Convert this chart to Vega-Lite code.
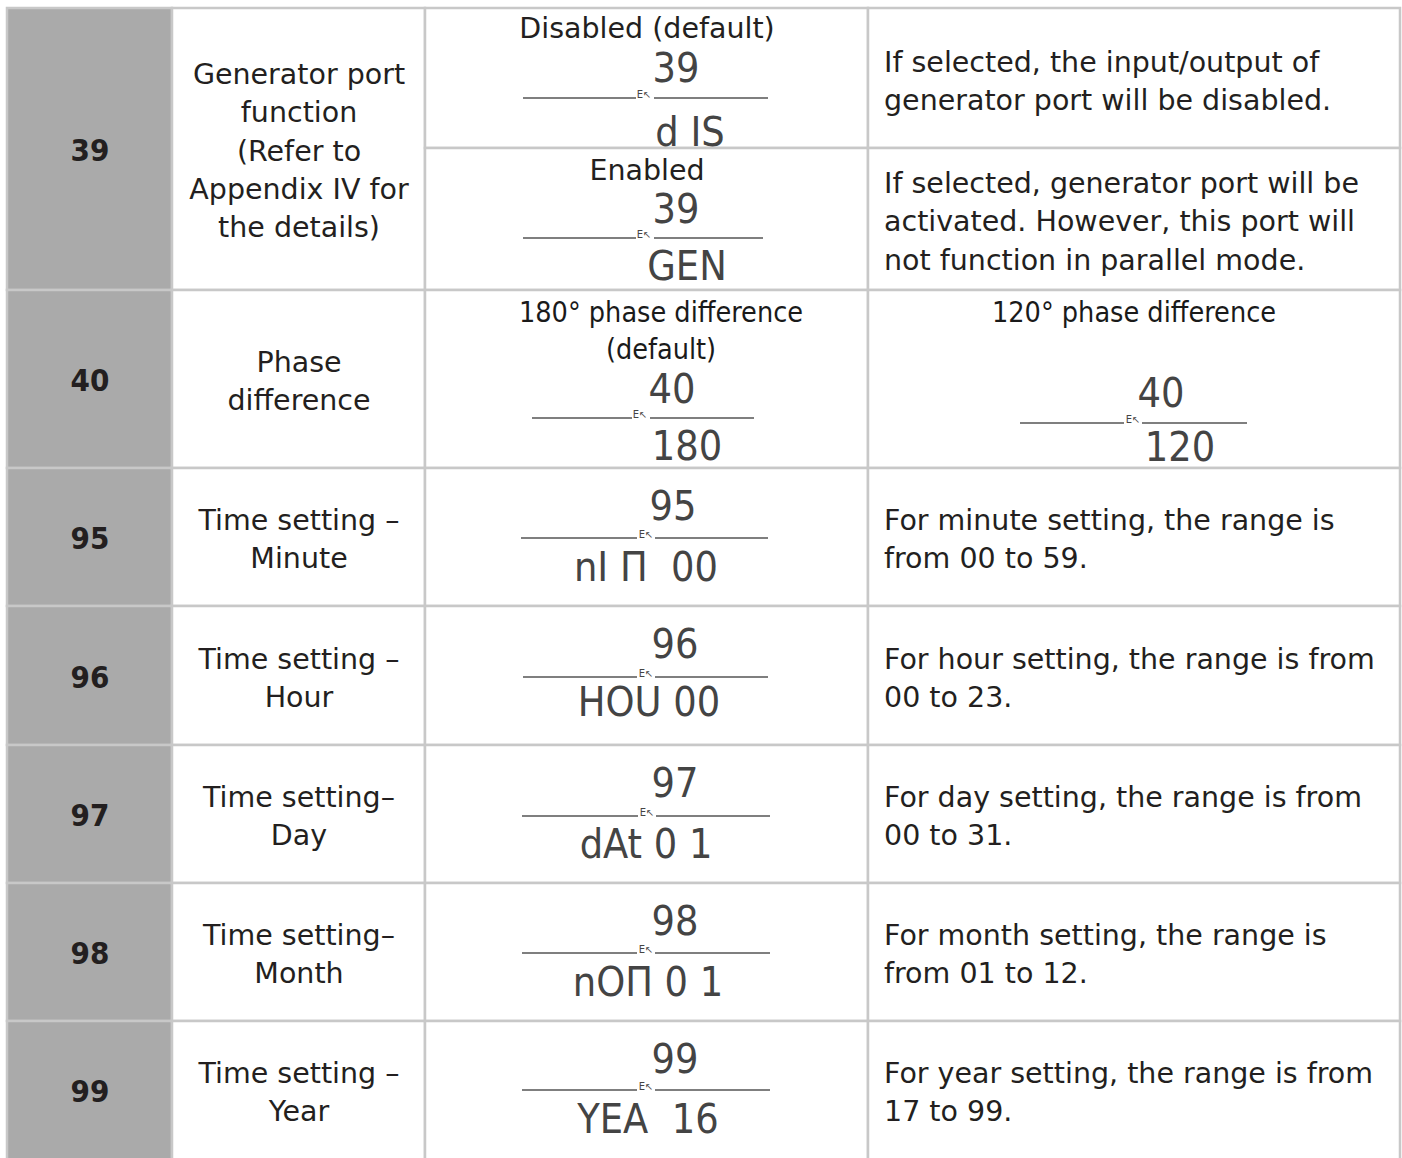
{
  "$schema": "https://vega.github.io/schema/vega-lite/v6.json",
  "width": 1402,
  "height": 1158,
  "padding": 0,
  "autosize": {"type": "none"},
  "background": "white",
  "config": {"view": {"stroke": null}},
  "datasets": {
    "cells": [
      {"x1": 7, "x2": 172, "y1": 8, "y2": 290, "kind": "id"},
      {"x1": 7, "x2": 172, "y1": 290, "y2": 468, "kind": "id"},
      {"x1": 7, "x2": 172, "y1": 468, "y2": 606, "kind": "id"},
      {"x1": 7, "x2": 172, "y1": 606, "y2": 745, "kind": "id"},
      {"x1": 7, "x2": 172, "y1": 745, "y2": 883, "kind": "id"},
      {"x1": 7, "x2": 172, "y1": 883, "y2": 1021, "kind": "id"},
      {"x1": 7, "x2": 172, "y1": 1021, "y2": 1175, "kind": "id"},
      {"x1": 172, "x2": 425, "y1": 8, "y2": 290, "kind": "body"},
      {"x1": 172, "x2": 425, "y1": 290, "y2": 468, "kind": "body"},
      {"x1": 172, "x2": 425, "y1": 468, "y2": 606, "kind": "body"},
      {"x1": 172, "x2": 425, "y1": 606, "y2": 745, "kind": "body"},
      {"x1": 172, "x2": 425, "y1": 745, "y2": 883, "kind": "body"},
      {"x1": 172, "x2": 425, "y1": 883, "y2": 1021, "kind": "body"},
      {"x1": 172, "x2": 425, "y1": 1021, "y2": 1175, "kind": "body"},
      {"x1": 425, "x2": 868, "y1": 8, "y2": 148, "kind": "body"},
      {"x1": 425, "x2": 868, "y1": 148, "y2": 290, "kind": "body"},
      {"x1": 425, "x2": 868, "y1": 290, "y2": 468, "kind": "body"},
      {"x1": 425, "x2": 868, "y1": 468, "y2": 606, "kind": "body"},
      {"x1": 425, "x2": 868, "y1": 606, "y2": 745, "kind": "body"},
      {"x1": 425, "x2": 868, "y1": 745, "y2": 883, "kind": "body"},
      {"x1": 425, "x2": 868, "y1": 883, "y2": 1021, "kind": "body"},
      {"x1": 425, "x2": 868, "y1": 1021, "y2": 1175, "kind": "body"},
      {"x1": 868, "x2": 1400, "y1": 8, "y2": 148, "kind": "body"},
      {"x1": 868, "x2": 1400, "y1": 148, "y2": 290, "kind": "body"},
      {"x1": 868, "x2": 1400, "y1": 290, "y2": 468, "kind": "body"},
      {"x1": 868, "x2": 1400, "y1": 468, "y2": 606, "kind": "body"},
      {"x1": 868, "x2": 1400, "y1": 606, "y2": 745, "kind": "body"},
      {"x1": 868, "x2": 1400, "y1": 745, "y2": 883, "kind": "body"},
      {"x1": 868, "x2": 1400, "y1": 883, "y2": 1021, "kind": "body"},
      {"x1": 868, "x2": 1400, "y1": 1021, "y2": 1175, "kind": "body"}
    ],
    "texts": [
      {"style": "id", "text": "39", "x": 90, "y": 152},
      {"style": "id", "text": "40", "x": 90, "y": 382},
      {"style": "id", "text": "95", "x": 90, "y": 540},
      {"style": "id", "text": "96", "x": 90, "y": 679},
      {"style": "id", "text": "97", "x": 90, "y": 817},
      {"style": "id", "text": "98", "x": 90, "y": 955},
      {"style": "id", "text": "99", "x": 90, "y": 1093},
      {"style": "center", "text": "Generator port\nfunction\n(Refer to\nAppendix IV for\nthe details)", "x": 299, "y": 75},
      {"style": "center", "text": "Phase\ndifference", "x": 299, "y": 363},
      {"style": "center", "text": "Time setting –\nMinute", "x": 299, "y": 521},
      {"style": "center", "text": "Time setting –\nHour", "x": 299, "y": 660},
      {"style": "center", "text": "Time setting–\nDay", "x": 299, "y": 798},
      {"style": "center", "text": "Time setting–\nMonth", "x": 299, "y": 936},
      {"style": "center", "text": "Time setting –\nYear", "x": 299, "y": 1074},
      {"style": "center", "text": "Disabled (default)", "x": 647, "y": 29},
      {"style": "center", "text": "Enabled", "x": 647, "y": 171},
      {"style": "left", "text": "If selected, the input/output of\ngenerator port will be disabled.", "x": 884, "y": 63},
      {"style": "left", "text": "If selected, generator port will be\nactivated. However, this port will\nnot function in parallel mode.", "x": 884, "y": 184},
      {"style": "left", "text": "For minute setting, the range is\nfrom 00 to 59.", "x": 884, "y": 521},
      {"style": "left", "text": "For hour setting, the range is from\n00 to 23.", "x": 884, "y": 660},
      {"style": "left", "text": "For day setting, the range is from\n00 to 31.", "x": 884, "y": 798},
      {"style": "left", "text": "For month setting, the range is\nfrom 01 to 12.", "x": 884, "y": 936},
      {"style": "left", "text": "For year setting, the range is from\n17 to 99.", "x": 884, "y": 1074},
      {"style": "narrow", "text": "180° phase difference\n(default)", "x": 661, "y": 313},
      {"style": "narrow", "text": "120° phase difference", "x": 1134, "y": 313}
    ],
    "lcd": [
      {"code": "39", "cx": 676, "cy": 70, "bottom": "d IS", "bx": 690, "by": 134, "icon": 644, "ly": 98},
      {"code": "39", "cx": 676, "cy": 211, "bottom": "GEN", "bx": 687, "by": 268, "icon": 644, "ly": 238},
      {"code": "40", "cx": 672, "cy": 391, "bottom": "180", "bx": 687, "by": 448, "icon": 640, "ly": 418},
      {"code": "40", "cx": 1161, "cy": 395, "bottom": "120", "bx": 1180, "by": 449, "icon": 1133, "ly": 423},
      {"code": "95", "cx": 673, "cy": 508, "bottom": "nI П\u00a0\u00a000", "bx": 646, "by": 569, "icon": 646, "ly": 538},
      {"code": "96", "cx": 675, "cy": 646, "bottom": "HOU 00", "bx": 649, "by": 704, "icon": 646, "ly": 677},
      {"code": "97", "cx": 675, "cy": 785, "bottom": "dAt 0 1", "bx": 646, "by": 846, "icon": 647, "ly": 816},
      {"code": "98", "cx": 675, "cy": 923, "bottom": "nOП 0 1", "bx": 648, "by": 984, "icon": 646, "ly": 953},
      {"code": "99", "cx": 675, "cy": 1061, "bottom": "YEA\u00a0\u00a016", "bx": 648, "by": 1121, "icon": 646, "ly": 1090}
    ],
    "segs": [
      {"x1": 523, "x2": 636, "y": 98}, {"x1": 654, "x2": 768, "y": 98},
      {"x1": 523, "x2": 636, "y": 238}, {"x1": 654, "x2": 763, "y": 238},
      {"x1": 532, "x2": 632, "y": 418}, {"x1": 650, "x2": 754, "y": 418},
      {"x1": 1020, "x2": 1124, "y": 423}, {"x1": 1142, "x2": 1247, "y": 423},
      {"x1": 521, "x2": 637, "y": 538}, {"x1": 655, "x2": 768, "y": 538},
      {"x1": 523, "x2": 637, "y": 677}, {"x1": 655, "x2": 768, "y": 677},
      {"x1": 522, "x2": 638, "y": 816}, {"x1": 656, "x2": 770, "y": 816},
      {"x1": 522, "x2": 637, "y": 953}, {"x1": 655, "x2": 770, "y": 953},
      {"x1": 522, "x2": 637, "y": 1090}, {"x1": 655, "x2": 770, "y": 1090}
    ]
  },
  "layer": [
    {
      "data": {"name": "cells"},
      "mark": {"type": "rect", "stroke": "#c8c8c8", "strokeWidth": 2.5, "clip": true},
      "encoding": {
        "x": {"field": "x1", "type": "quantitative", "scale": {"domain": [0, 1402], "nice": false, "zero": false}, "axis": null},
        "x2": {"field": "x2"},
        "y": {"field": "y1", "type": "quantitative", "scale": {"domain": [0, 1158], "nice": false, "zero": false, "reverse": true}, "axis": null},
        "y2": {"field": "y2"},
        "fill": {"field": "kind", "type": "nominal", "scale": {"domain": ["id", "body"], "range": ["#aaaaaa", "#ffffff"]}, "legend": null}
      }
    },
    {
      "data": {"name": "texts"},
      "transform": [{"filter": "datum.style === 'id'"}],
      "mark": {"type": "text", "font": "DejaVu Sans Condensed", "fontWeight": "bold", "fontSize": 31, "color": "#231f20", "align": "center", "baseline": "middle"},
      "encoding": {
        "x": {"field": "x", "type": "quantitative"},
        "y": {"field": "y", "type": "quantitative"},
        "text": {"field": "text"}
      }
    },
    {
      "data": {"name": "texts"},
      "transform": [{"filter": "datum.style === 'center'"}],
      "mark": {"type": "text", "font": "DejaVu Sans", "fontSize": 28.5, "color": "#231f20", "align": "center", "baseline": "middle", "lineBreak": "\n", "lineHeight": 38.3},
      "encoding": {
        "x": {"field": "x", "type": "quantitative"},
        "y": {"field": "y", "type": "quantitative"},
        "text": {"field": "text"}
      }
    },
    {
      "data": {"name": "texts"},
      "transform": [{"filter": "datum.style === 'left'"}],
      "mark": {"type": "text", "font": "DejaVu Sans", "fontSize": 28.5, "color": "#231f20", "align": "left", "baseline": "middle", "lineBreak": "\n", "lineHeight": 38.3},
      "encoding": {
        "x": {"field": "x", "type": "quantitative"},
        "y": {"field": "y", "type": "quantitative"},
        "text": {"field": "text"}
      }
    },
    {
      "data": {"name": "texts"},
      "transform": [{"filter": "datum.style === 'narrow'"}],
      "mark": {"type": "text", "font": "DejaVu Sans Condensed", "fontSize": 28.5, "color": "#1a1a1a", "align": "center", "baseline": "middle", "lineBreak": "\n", "lineHeight": 37},
      "encoding": {
        "x": {"field": "x", "type": "quantitative"},
        "y": {"field": "y", "type": "quantitative"},
        "text": {"field": "text"}
      }
    },
    {
      "data": {"name": "segs"},
      "mark": {"type": "rule", "color": "#555555", "strokeWidth": 1.5},
      "encoding": {
        "x": {"field": "x1", "type": "quantitative"},
        "x2": {"field": "x2"},
        "y": {"field": "y", "type": "quantitative"}
      }
    },
    {
      "data": {"name": "lcd"},
      "mark": {"type": "text", "font": "DejaVu Sans Condensed", "fontSize": 41, "color": "#444444", "align": "center", "baseline": "middle"},
      "encoding": {
        "x": {"field": "cx", "type": "quantitative"},
        "y": {"field": "cy", "type": "quantitative"},
        "text": {"field": "code"}
      }
    },
    {
      "data": {"name": "lcd"},
      "mark": {"type": "text", "font": "DejaVu Sans Condensed", "fontSize": 41, "color": "#444444", "align": "center", "baseline": "middle"},
      "encoding": {
        "x": {"field": "bx", "type": "quantitative"},
        "y": {"field": "by", "type": "quantitative"},
        "text": {"field": "bottom"}
      }
    },
    {
      "data": {"name": "lcd"},
      "mark": {"type": "text", "font": "DejaVu Sans", "fontSize": 10, "color": "#444444", "align": "center", "baseline": "middle", "dy": -3},
      "encoding": {
        "x": {"field": "icon", "type": "quantitative"},
        "y": {"field": "ly", "type": "quantitative"},
        "text": {"value": "E↖"}
      }
    }
  ]
}
